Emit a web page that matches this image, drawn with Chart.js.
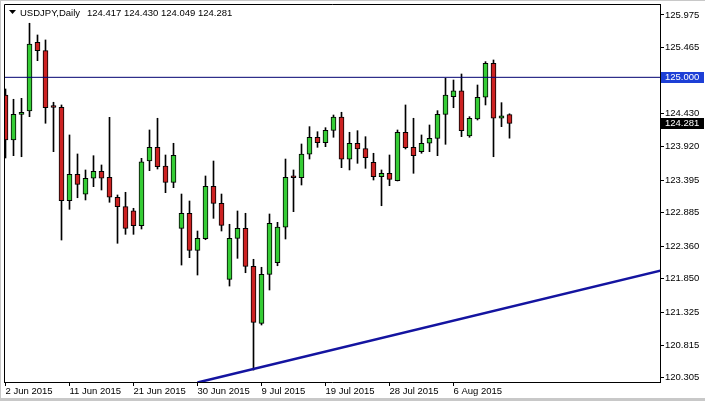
<!DOCTYPE html>
<html>
<head>
<meta charset="utf-8">
<script src="https://cdn.jsdelivr.net/npm/chart.js@4.4.1/dist/chart.umd.min.js"></script>
<style>
  html, body { margin: 0; padding: 0; background: #fff; }
  canvas { display: block; }
</style>
</head>
<body>
<canvas id="myChart" width="705" height="401"></canvas>
<script>
// daily candles, 2 Jun 2015 .. 12 Aug 2015 (broker has Sunday bars)
const symbolName = 'USDJPY,Daily';
const opens  = [124.724, 124.021, 124.422, 124.474, 125.548, 125.417, 124.535, 124.532, 123.072, 123.484,
                123.172, 123.422, 123.531, 123.437, 123.125, 122.978, 122.915, 122.681, 123.692, 123.906,
                123.614, 123.359, 122.640, 122.875, 122.296, 122.478, 123.297, 123.031, 121.843, 122.484,
                122.640, 122.046, 121.155, 121.921, 122.102, 122.656, 123.434, 123.431, 123.797, 124.063,
                123.978, 124.172, 124.380, 123.719, 123.969, 123.885, 123.672, 123.447, 123.500, 123.384,
                124.141, 123.906, 123.838, 123.969, 124.047, 124.422, 124.698, 124.787, 124.083, 124.349,
                124.688, 125.220, 124.360, 124.417];
const highs  = [124.818, 124.657, 124.672, 125.845, 125.662, 125.584, 124.610, 124.568, 124.099, 123.802,
                123.552, 123.775, 123.630, 124.375, 123.161, 123.203, 122.953, 123.734, 124.177, 124.360,
                123.786, 123.969, 123.176, 123.067, 122.598, 123.458, 123.692, 123.176, 122.703, 122.911,
                122.875, 122.156, 122.031, 122.864, 122.734, 123.723, 123.552, 123.958, 124.229, 124.150,
                124.213, 124.411, 124.454, 124.141, 124.166, 124.072, 123.813, 123.552, 123.786, 124.177,
                124.568, 124.360, 124.099, 124.255, 124.479, 124.985, 124.958, 125.052, 124.385, 124.880,
                125.245, 125.271, 124.604, 124.430];
const lows   = [123.739, 123.775, 123.759, 124.385, 125.260, 124.282, 123.838, 122.457, 122.937, 123.118,
                123.083, 123.291, 123.239, 123.047, 122.406, 122.546, 122.546, 122.629, 123.541, 123.567,
                123.197, 123.275, 122.066, 122.181, 121.910, 122.462, 122.796, 122.598, 121.738, 122.171,
                121.946, 120.425, 121.129, 121.676, 122.055, 122.473, 122.900, 123.317, 123.723, 123.906,
                123.916, 124.063, 123.588, 123.552, 123.656, 123.578, 123.395, 122.993, 123.306, 123.380,
                123.880, 123.500, 123.813, 123.838, 123.775, 123.953, 124.525, 124.072, 124.063, 124.333,
                124.568, 123.759, 124.229, 124.049];
const closes = [124.021, 124.422, 124.454, 125.521, 125.417, 124.525, 124.528, 123.072, 123.484, 123.328,
                123.422, 123.531, 123.422, 123.125, 122.978, 122.640, 122.681, 123.681, 123.906, 123.603,
                123.359, 123.781, 122.875, 122.296, 122.484, 123.297, 123.031, 122.687, 122.484, 122.640,
                122.046, 121.171, 121.921, 122.718, 122.661, 123.437, 123.431, 123.802, 124.063, 123.978,
                124.172, 124.380, 123.719, 123.969, 123.880, 123.744, 123.447, 123.500, 123.406, 124.141,
                123.900, 123.775, 123.969, 124.047, 124.422, 124.724, 124.787, 124.166, 124.360, 124.688,
                125.220, 124.360, 124.400, 124.281];

const tickIndex = [0, 8, 16, 24, 32, 40, 48, 56];
const tickDates = ['2 Jun 2015', '11 Jun 2015', '21 Jun 2015', '30 Jun 2015',
                   '9 Jul 2015', '19 Jul 2015', '28 Jul 2015', '6 Aug 2015'];
const priceTicks = [125.975, 125.465, 124.945, 124.430, 123.920, 123.395,
                    122.885, 122.360, 121.850, 121.325, 120.815, 120.305];
const levelLine = 125.000;
const trendLine = [[24, 120.230], [82, 121.983]];

const xMin = -0.1875, xMax = 81.8125;
const family = "'Liberation Sans', Arial, sans-serif";
const fontSize = 9.5;

const bodies = opens.map((o, i) => ({ x: i, y: [o, closes[i]] }));
const wicks = lows.map((l, i) => ({ x: i, y: [l, highs[i]] }));
const bodyColors = opens.map((o, i) => closes[i] >= o ? '#35cc35' : '#cc2222');

// no extra room for half tick labels, the plot box is fixed
const noPad = s => { s.paddingTop = 0; s.paddingBottom = 0; s.paddingLeft = 0; s.paddingRight = 0; };

const mtOverlay = {
    id: 'mtOverlay',
    beforeDraw(chart) {
        const c = chart.ctx;
        c.save();
        c.fillStyle = '#fff';
        c.fillRect(0, 0, chart.width, chart.height);
        c.fillStyle = '#c8c8c8';
        c.fillRect(0, 0, chart.width, 1);
        c.fillRect(0, 0, 1, chart.height);
        c.fillRect(0, chart.height - 3, chart.width, 3);
        c.restore();
    },
    afterDraw(chart) {
        const c = chart.ctx, a = chart.chartArea, y = chart.scales.y;
        c.save();
        // left and top frame of the plot
        c.strokeStyle = '#000';
        c.lineWidth = 1;
        c.beginPath();
        c.moveTo(a.left + 0.5, a.bottom);
        c.lineTo(a.left + 0.5, a.top + 0.5);
        c.lineTo(a.right, a.top + 0.5);
        c.stroke();

        // header: triangle, symbol and OHLC of the last bar
        const last = opens.length - 1;
        c.fillStyle = '#000';
        c.beginPath();
        c.moveTo(9, 10); c.lineTo(16, 10); c.lineTo(12.5, 14);
        c.closePath();
        c.fill();
        c.font = fontSize + 'px ' + family;
        c.textBaseline = 'middle';
        c.textAlign = 'left';
        c.fillText(symbolName, 20, 13);
        c.fillText([opens[last], highs[last], lows[last], closes[last]].map(v => v.toFixed(3)).join(' '), 87, 13);

        // price tags on the right axis
        const tag = (val, bg) => {
            const py = Math.round(y.getPixelForValue(val));
            c.fillStyle = bg;
            c.fillRect(a.right + 1, py - 5, 43, 11);
            c.fillStyle = '#fff';
            c.fillText(val.toFixed(3), a.right + 5, py + 0.5);
        };
        tag(levelLine, '#1d3fd6');
        tag(closes[last], '#000');
        c.restore();
    }
};

const ctx = document.getElementById('myChart').getContext('2d');
new Chart(ctx, {
    type: 'bar',
    data: {
        datasets: [
            {
                type: 'line',
                data: [{ x: xMin, y: levelLine }, { x: xMax, y: levelLine }],
                borderColor: '#000070',
                borderWidth: 1,
                pointRadius: 0,
                clip: 0,
                order: 0
            },
            {
                type: 'line',
                data: trendLine.map(p => ({ x: p[0], y: p[1] })),
                borderColor: '#1414a0',
                borderWidth: 2.5,
                pointRadius: 0,
                clip: 0,
                order: 0
            },
            {
                data: bodies,
                backgroundColor: bodyColors,
                borderColor: '#000',
                borderWidth: 1,
                borderSkipped: false,
                barThickness: 5,
                minBarLength: 2,
                grouped: false,
                order: 1
            },
            {
                data: wicks,
                backgroundColor: '#000',
                borderWidth: 0,
                barThickness: 1,
                grouped: false,
                order: 2
            }
        ]
    },
    options: {
        responsive: false,
        animation: false,
        layout: { padding: { left: 4, top: 4, right: 0, bottom: 0 } },
        plugins: { legend: { display: false }, tooltip: { enabled: false } },
        scales: {
            x: {
                type: 'linear',
                min: xMin,
                max: xMax,
                offset: false,
                afterBuildTicks: s => { s.ticks = tickIndex.map(v => ({ value: v })); },
                afterFit: s => { s.height = 19; noPad(s); },
                grid: { drawOnChartArea: false, tickLength: 4, color: '#000', offset: false },
                border: { color: '#000', width: 1 },
                ticks: {
                    autoSkip: false, maxRotation: 0, align: 'start', padding: 0,
                    color: '#000', font: { family: family, size: fontSize },
                    callback: (v, i) => tickDates[i]
                }
            },
            y: {
                type: 'linear',
                position: 'right',
                min: 120.238,
                max: 126.146,
                afterBuildTicks: s => { s.ticks = priceTicks.map(v => ({ value: v })); },
                afterFit: s => { s.width = 45; noPad(s); },
                grid: { drawOnChartArea: false, tickLength: 4, color: '#000' },
                border: { color: '#000', width: 1 },
                ticks: {
                    autoSkip: false, padding: 1,
                    color: '#000', font: { family: family, size: fontSize },
                    callback: v => v.toFixed(3)
                }
            }
        }
    },
    plugins: [mtOverlay]
});
</script>
</body>
</html>
